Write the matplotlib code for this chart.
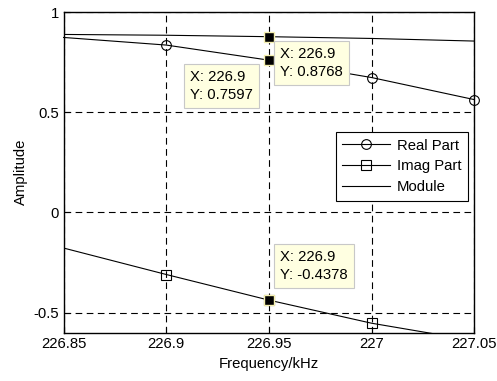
import matplotlib
matplotlib.use("Agg")
import matplotlib.pyplot as plt

plt.rcParams['font.family'] = ['Liberation Sans', 'DejaVu Sans']
plt.rcParams['axes.unicode_minus'] = False

# values
freq = [226.85, 226.9, 226.95, 227.0, 227.05]
real_part = [0.873, 0.835, 0.7597, 0.673, 0.563]
imag_part = [-0.178, -0.31, -0.4378, -0.553, -0.64]
module = [0.888, 0.884, 0.8768, 0.868, 0.855]

tip_x = 226.95
tip_label = "226.9"
tip_real = 0.7597
tip_module = 0.8768
tip_imag = -0.4378

xticks = [226.85, 226.9, 226.95, 227.0, 227.05]
xtick_labels = ["226.85", "226.9", "226.95", "227", "227.05"]
yticks = [-0.5, 0, 0.5, 1]
ytick_labels = ["-0.5", "0", "0.5", "1"]

fs = 10.7
fig = plt.figure(figsize=(4.97, 3.81), dpi=100)
ax = fig.add_axes([0.128, 0.127, 0.826, 0.8415])

ax.plot(freq, real_part, color='black', lw=0.8, marker='o', markersize=7,
        markerfacecolor='none', markeredgewidth=0.8, markevery=[1, 2, 3, 4],
        label='Real Part', clip_on=False)
ax.plot(freq, imag_part, color='black', lw=0.8, marker='s', markersize=7,
        markerfacecolor='none', markeredgewidth=0.8, markevery=[1, 2, 3, 4],
        label='Imag Part')
ax.plot(freq, module, color='black', lw=0.8, label='Module')

# data tip markers
for yv in [tip_real, tip_module, tip_imag]:
    ax.plot([tip_x], [yv], marker='s', markersize=7, color='black',
            markeredgecolor='#f5f0b0', markeredgewidth=1.0, zorder=5)

box = dict(boxstyle='square,pad=0.4', fc='#ffffe1', ec='#c8c8c8', lw=0.8)
ax.text(226.9117, 0.712, f"X: {tip_label}\nY: {tip_real:.4f}", fontsize=fs,
        ha='left', va='top', bbox=box, zorder=6, linespacing=1.4)
ax.text(226.9556, 0.827, f"X: {tip_label}\nY: {tip_module:.4f}", fontsize=fs,
        ha='left', va='top', bbox=box, zorder=6, linespacing=1.4)
ax.text(226.9556, -0.188, f"X: {tip_label}\nY: {tip_imag:.4f}", fontsize=fs,
        ha='left', va='top', bbox=box, zorder=6, linespacing=1.4)

ax.set_xlim(226.85, 227.05)
ax.set_ylim(-0.6, 1)
ax.set_xticks(xticks)
ax.set_xticklabels(xtick_labels)
ax.set_yticks(yticks)
ax.set_yticklabels(ytick_labels)
ax.tick_params(direction='in', length=4, labelsize=fs, width=0.8)
ax.grid(True, color='black', linestyle=(0, (6, 4)), linewidth=0.8)
for s in ax.spines.values():
    s.set_linewidth(1.0)

ax.set_xlabel('Frequency/kHz', fontsize=fs)
ax.set_ylabel('Amplitude', fontsize=fs)

leg = ax.legend(loc='upper right', bbox_to_anchor=(0.985, 0.626), fontsize=fs,
                fancybox=False, framealpha=1, edgecolor='black',
                handlelength=3.2, borderpad=0.45, labelspacing=0.45,
                handletextpad=0.45, borderaxespad=0)
leg.get_frame().set_linewidth(0.8)

fig.savefig('out.png', dpi=100)
